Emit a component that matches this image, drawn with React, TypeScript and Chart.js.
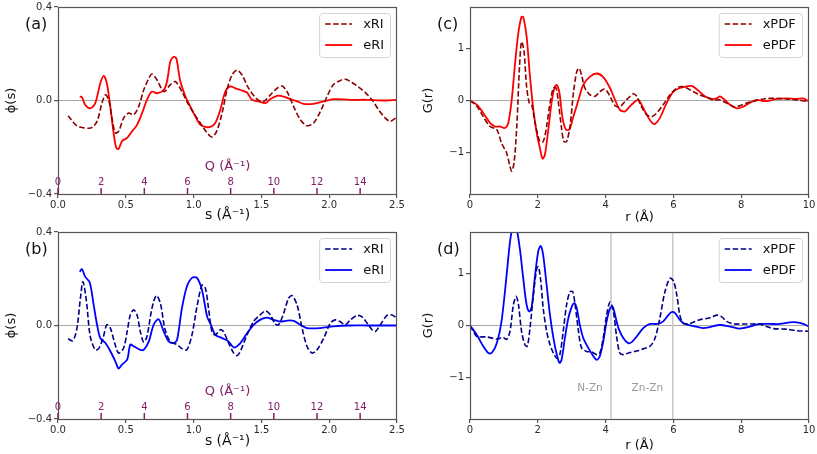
import React, { useEffect, useRef } from "react";
import { Chart, registerables } from "chart.js";

Chart.register(...registerables);
Chart.defaults.font.family = "'DejaVu Sans', sans-serif";

// ---------------- data ----------------
const S_TICKS = [0, 0.5, 1.0, 1.5, 2.0, 2.5];
const PHI_TICKS = [-0.4, 0, 0.4];
const R_TICKS = [0, 2, 4, 6, 8, 10];
const G_TICKS = [-1, 0, 1];
const Q_TICKS = [0, 2, 4, 6, 8, 10, 12, 14];
const BOND_R = [4.16, 5.98];
const BOND_LABELS = ["N-Zn", "Zn-Zn"];
const BOND_LABEL_R = [3.54, 5.23];

const A_XRI: number[][] = [[0.074,-0.065],[0.14,-0.108],[0.24,-0.118],[0.288,-0.089],[0.324,-0.011],[0.35,0.024],[0.374,0.003],[0.40,-0.082],[0.423,-0.139],[0.447,-0.132],[0.484,-0.075],[0.52,-0.054],[0.558,-0.061],[0.595,-0.026],[0.632,0.045],[0.67,0.095],[0.693,0.113],[0.73,0.088],[0.78,0.038],[0.828,0.067],[0.865,0.081],[0.914,0.038],[0.95,-0.004],[1.0,-0.054],[1.05,-0.096],[1.1,-0.139],[1.135,-0.156],[1.17,-0.132],[1.21,-0.054],[1.246,0.045],[1.283,0.109],[1.32,0.13],[1.357,0.109],[1.406,0.052],[1.467,0.006],[1.517,-0.004],[1.566,0.024],[1.615,0.052],[1.652,0.062],[1.689,0.038],[1.738,-0.026],[1.787,-0.082],[1.836,-0.108],[1.885,-0.096],[1.935,-0.047],[1.984,0.017],[2.03,0.067],[2.08,0.085],[2.12,0.091],[2.168,0.077],[2.217,0.057],[2.266,0.034],[2.316,0.003],[2.365,-0.04],[2.414,-0.075],[2.45,-0.089],[2.5,-0.071]];
const A_ERI: number[][] = [[0.16,0.017],[0.177,0.014],[0.2,-0.018],[0.238,-0.033],[0.275,-0.011],[0.312,0.074],[0.337,0.105],[0.36,0.074],[0.386,-0.026],[0.41,-0.139],[0.43,-0.203],[0.447,-0.207],[0.472,-0.174],[0.51,-0.16],[0.546,-0.132],[0.583,-0.104],[0.62,-0.054],[0.656,0.003],[0.693,0.038],[0.73,0.031],[0.78,0.045],[0.804,0.081],[0.828,0.166],[0.853,0.187],[0.873,0.18],[0.9,0.088],[0.94,0.017],[0.976,-0.026],[1.013,-0.068],[1.05,-0.104],[1.087,-0.113],[1.123,-0.113],[1.16,-0.096],[1.197,-0.04],[1.234,0.038],[1.27,0.06],[1.308,0.052],[1.345,0.045],[1.394,0.034],[1.43,0.003],[1.48,-0.004],[1.53,-0.011],[1.566,0.006],[1.615,0.02],[1.664,0.017],[1.713,0.006],[1.763,-0.004],[1.81,-0.014],[1.885,-0.014],[1.96,-0.004],[2.03,0.006],[2.156,0.003],[2.28,0.003],[2.4,0],[2.5,0.003]];
const B_XRI: number[][] = [[0.074,-0.057],[0.11,-0.065],[0.14,-0.011],[0.165,0.116],[0.184,0.187],[0.21,0.102],[0.238,-0.047],[0.275,-0.104],[0.3,-0.099],[0.332,-0.054],[0.36,0.003],[0.386,-0.011],[0.418,-0.075],[0.447,-0.118],[0.484,-0.096],[0.51,-0.026],[0.533,0.045],[0.558,0.067],[0.583,0.045],[0.607,-0.026],[0.632,-0.071],[0.656,-0.047],[0.693,0.074],[0.725,0.128],[0.755,0.095],[0.79,-0.018],[0.828,-0.068],[0.878,-0.082],[0.914,-0.099],[0.95,-0.104],[0.988,-0.04],[1.025,0.081],[1.062,0.173],[1.087,0.159],[1.11,0.074],[1.135,-0.026],[1.16,-0.04],[1.197,-0.018],[1.22,-0.026],[1.258,-0.075],[1.296,-0.118],[1.32,-0.129],[1.345,-0.11],[1.394,-0.04],[1.443,0.017],[1.49,0.045],[1.53,0.062],[1.566,0.045],[1.603,0.006],[1.627,0.003],[1.664,0.052],[1.7,0.116],[1.726,0.128],[1.763,0.088],[1.8,-0.011],[1.836,-0.089],[1.873,-0.118],[1.91,-0.104],[1.96,-0.054],[2.008,0.01],[2.045,0.024],[2.08,0.017],[2.12,0.003],[2.156,0.024],[2.205,0.043],[2.24,0.038],[2.28,0.01],[2.316,-0.018],[2.34,-0.026],[2.377,0.003],[2.426,0.043],[2.463,0.045],[2.5,0.031]];
const B_ERI: number[][] = [[0.16,0.23],[0.177,0.241],[0.2,0.209],[0.234,0.184],[0.263,0.088],[0.288,0.003],[0.312,-0.054],[0.35,-0.075],[0.386,-0.11],[0.423,-0.153],[0.447,-0.184],[0.472,-0.167],[0.51,-0.146],[0.533,-0.082],[0.558,-0.089],[0.607,-0.104],[0.632,-0.104],[0.67,-0.068],[0.705,0.003],[0.742,0.027],[0.78,-0.026],[0.816,-0.068],[0.853,-0.075],[0.878,-0.061],[0.914,0.074],[0.95,0.166],[0.988,0.204],[1.025,0.204],[1.062,0.152],[1.1,0.038],[1.128,0.003],[1.16,-0.04],[1.21,-0.054],[1.258,-0.068],[1.296,-0.094],[1.345,-0.075],[1.394,-0.033],[1.443,0.003],[1.49,0.024],[1.54,0.034],[1.59,0.024],[1.64,0.017],[1.69,0.021],[1.738,0.02],[1.787,0.003],[1.836,-0.011],[1.935,-0.011],[2.03,-0.004],[2.156,0],[2.28,0],[2.5,0]];
const C_XPDF: number[][] = [[0,0],[0.2,-0.11],[0.39,-0.31],[0.59,-0.5],[0.79,-0.56],[0.93,-0.82],[1.08,-1.01],[1.18,-1.27],[1.23,-1.36],[1.3,-1.2],[1.38,-0.5],[1.46,0.65],[1.52,1.13],[1.59,0.97],[1.67,0.27],[1.75,-0.05],[1.82,-0.08],[1.92,-0.43],[2.06,-0.79],[2.16,-0.79],[2.26,-0.5],[2.36,-0.05],[2.46,0.24],[2.54,0.24],[2.61,-0.05],[2.7,-0.53],[2.77,-0.79],[2.85,-0.79],[2.95,-0.5],[3.05,0.14],[3.15,0.56],[3.22,0.62],[3.29,0.49],[3.39,0.24],[3.54,0.11],[3.69,0.08],[3.83,0.17],[3.98,0.22],[4.13,0.08],[4.28,-0.1],[4.42,-0.12],[4.57,-0.02],[4.72,0.08],[4.82,0.13],[4.92,0.08],[5.06,-0.12],[5.21,-0.27],[5.36,-0.31],[5.51,-0.24],[5.7,-0.08],[5.9,0.11],[6.1,0.24],[6.24,0.27],[6.39,0.24],[6.59,0.17],[6.78,0.11],[6.98,0.06],[7.18,0.01],[7.37,0.01],[7.57,-0.05],[7.77,-0.12],[7.96,-0.1],[8.16,-0.05],[8.46,0],[8.75,0.04],[9.05,0.04],[9.34,0.03],[9.64,0.01],[10,-0.02]];
const C_EPDF: number[][] = [[0,0],[0.2,-0.08],[0.39,-0.24],[0.59,-0.43],[0.74,-0.5],[0.88,-0.5],[1.03,-0.53],[1.13,-0.43],[1.23,0.01],[1.33,0.72],[1.43,1.32],[1.52,1.61],[1.57,1.61],[1.67,1.23],[1.77,0.46],[1.87,-0.18],[1.97,-0.63],[2.06,-0.91],[2.14,-1.12],[2.21,-1.04],[2.31,-0.56],[2.41,-0.02],[2.49,0.24],[2.56,0.3],[2.64,0.14],[2.73,-0.34],[2.83,-0.56],[2.93,-0.56],[3.05,-0.31],[3.2,0.01],[3.34,0.3],[3.54,0.46],[3.74,0.52],[3.93,0.45],[4.13,0.24],[4.28,0.01],[4.42,-0.18],[4.57,-0.21],[4.72,-0.11],[4.87,-0.02],[4.97,0.01],[5.06,-0.08],[5.21,-0.27],[5.36,-0.42],[5.46,-0.45],[5.6,-0.34],[5.8,-0.05],[6.0,0.17],[6.19,0.24],[6.39,0.27],[6.54,0.28],[6.74,0.19],[6.93,0.08],[7.13,0.03],[7.28,0.04],[7.37,0.08],[7.52,0.01],[7.67,-0.08],[7.87,-0.15],[8.06,-0.12],[8.26,-0.04],[8.46,0.01],[8.65,-0.01],[8.85,0],[9.05,0.03],[9.34,0.04],[9.64,0.03],[9.83,0.04],[10,-0.02]];
const D_XPDF: number[][] = [[0,0],[0.1,-0.11],[0.2,-0.21],[0.49,-0.22],[0.79,-0.26],[0.98,-0.23],[1.08,-0.27],[1.18,-0.11],[1.28,0.4],[1.36,0.56],[1.43,0.4],[1.52,-0.11],[1.62,-0.37],[1.69,-0.4],[1.77,-0.05],[1.87,0.59],[1.97,1.1],[2.02,1.13],[2.09,0.84],[2.16,0.33],[2.26,-0.11],[2.36,-0.37],[2.46,-0.53],[2.56,-0.63],[2.65,-0.56],[2.75,-0.11],[2.85,0.4],[2.95,0.65],[3.03,0.65],[3.1,0.4],[3.2,-0.11],[3.29,-0.43],[3.44,-0.5],[3.59,-0.51],[3.74,-0.56],[3.83,-0.53],[3.93,-0.24],[4.03,0.2],[4.13,0.45],[4.23,0.27],[4.33,-0.24],[4.42,-0.53],[4.52,-0.56],[4.72,-0.52],[4.92,-0.49],[5.11,-0.45],[5.31,-0.4],[5.46,-0.24],[5.6,0.14],[5.75,0.65],[5.9,0.91],[6.0,0.86],[6.1,0.59],[6.19,0.2],[6.29,0.04],[6.49,0.04],[6.78,0.11],[7.08,0.15],[7.28,0.2],[7.42,0.17],[7.57,0.08],[7.77,0.03],[8.06,0.03],[8.36,0.03],[8.55,0.03],[8.75,-0.02],[8.95,-0.06],[9.34,-0.07],[9.64,-0.1],[10,-0.11]];
const D_EPDF: number[][] = [[0,0],[0.2,-0.18],[0.39,-0.4],[0.54,-0.53],[0.64,-0.53],[0.79,-0.34],[0.93,0.08],[1.08,0.97],[1.18,1.61],[1.27,1.92],[1.36,1.9],[1.47,1.48],[1.57,0.91],[1.67,0.4],[1.75,0.27],[1.82,0.36],[1.92,0.97],[2.02,1.45],[2.09,1.53],[2.16,1.35],[2.26,0.78],[2.36,0.2],[2.46,-0.24],[2.56,-0.56],[2.64,-0.72],[2.7,-0.66],[2.8,-0.24],[2.9,0.14],[3.0,0.36],[3.08,0.43],[3.15,0.33],[3.24,0.01],[3.34,-0.24],[3.49,-0.43],[3.64,-0.59],[3.74,-0.66],[3.83,-0.59],[3.93,-0.31],[4.03,0.08],[4.13,0.33],[4.21,0.36],[4.28,0.2],[4.38,-0.05],[4.52,-0.24],[4.67,-0.34],[4.77,-0.32],[4.92,-0.21],[5.11,-0.05],[5.31,0.03],[5.51,0.03],[5.7,0.08],[5.85,0.2],[5.95,0.26],[6.05,0.24],[6.19,0.11],[6.34,0.03],[6.59,-0.01],[6.88,-0.05],[7.08,-0.03],[7.37,0.01],[7.67,-0.02],[7.96,-0.06],[8.26,-0.02],[8.55,0.03],[8.85,0.03],[9.14,0.03],[9.44,0.06],[9.64,0.06],[9.83,0.03],[10,-0.02]];

// ---------------- styles ----------------
const INK = "#2a2a2a";
const FRAME = "#555555";
const PURPLE = "#82206c";
const DARKRED = "#8b0000";
const RED = "#ff0000";
const DARKBLUE = "#00008b";
const BLUE = "#0000ff";

type Series = { label: string; points: number[][]; color: string; dashed: boolean };
type PanelSpec = {
  tag: string;
  x: number; y: number; w: number; h: number;
  area: { l: number; t: number; r: number; b: number };
  xMin: number; xMax: number; yMin: number; yMax: number;
  xTicks: number[]; yTicks: number[];
  xFmt: (v: number) => string; yFmt: (v: number) => string;
  xTitle: string; yTitle: string;
  yTitlePad: number; xTitlePad: number; xTitleSize: number;
  series: Series[];
  qAxis: boolean;
  bonds: boolean;
};

const minus = (s: string) => s.replace("-", "\u2212");

function decorPlugin(p: PanelSpec) {
  return {
    id: "decor" + p.tag,
    beforeDatasetsDraw(chart: any) {
      const { ctx, chartArea: a, scales } = chart;
      const y0 = scales.y.getPixelForValue(0);
      ctx.save();
      ctx.strokeStyle = "#a8a8a8";
      ctx.lineWidth = 1.2;
      ctx.beginPath();
      ctx.moveTo(a.left, y0);
      ctx.lineTo(a.right, y0);
      ctx.stroke();
      if (p.bonds) {
        ctx.strokeStyle = "#c8c8c8";
        ctx.lineWidth = 1.5;
        BOND_R.forEach((r) => {
          const px = scales.x.getPixelForValue(r);
          ctx.beginPath();
          ctx.moveTo(px, a.top);
          ctx.lineTo(px, a.bottom);
          ctx.stroke();
        });
        ctx.fillStyle = "#9a9a9a";
        ctx.font = "10.5px 'DejaVu Sans'";
        ctx.textAlign = "center";
        ctx.textBaseline = "middle";
        BOND_LABELS.forEach((t, i) => {
          ctx.fillText(t, scales.x.getPixelForValue(BOND_LABEL_R[i]), scales.y.getPixelForValue(-1.2));
        });
      }
      ctx.restore();
    },
    afterDraw(chart: any) {
      const { ctx, chartArea: a, scales } = chart;
      ctx.save();
      // frame
      ctx.strokeStyle = FRAME;
      ctx.lineWidth = 1.2;
      ctx.strokeRect(a.left + 0.5, a.top + 0.5, a.right - a.left - 1, a.bottom - a.top);
      // Q axis
      if (p.qAxis) {
        ctx.strokeStyle = PURPLE;
        ctx.fillStyle = PURPLE;
        ctx.lineWidth = 1.5;
        ctx.font = "10px 'DejaVu Sans'";
        ctx.textAlign = "center";
        ctx.textBaseline = "middle";
        Q_TICKS.forEach((q) => {
          const px = scales.x.getPixelForValue(q / (2 * Math.PI));
          ctx.beginPath();
          ctx.moveTo(px, a.bottom);
          ctx.lineTo(px, a.bottom - 6);
          ctx.stroke();
          ctx.fillText(String(q), px, a.bottom - 11.5);
        });
        ctx.font = "13px 'DejaVu Sans'";
        ctx.fillText("Q (\u00c5\u207b\u00b9)", (a.left + a.right) / 2, a.bottom - 27);
      }
      // panel tag
      ctx.fillStyle = "#111";
      ctx.font = "16px 'DejaVu Sans'";
      ctx.textAlign = "left";
      ctx.textBaseline = "middle";
      ctx.fillText("(" + p.tag + ")", a.left - 33, a.top + 18);
      // legend
      ctx.font = "13px 'DejaVu Sans'";
      const tw = Math.max(...p.series.map((s) => ctx.measureText(s.label).width));
      const bw = 6 + 27 + 11 + tw + 6;
      const bx = a.right - 7 - bw;
      const by = a.top + 6;
      const bh = 44;
      ctx.beginPath();
      if (ctx.roundRect) ctx.roundRect(bx + 0.5, by + 0.5, bw, bh, 3);
      else ctx.rect(bx + 0.5, by + 0.5, bw, bh);
      ctx.fillStyle = "rgba(255,255,255,0.85)";
      ctx.fill();
      ctx.strokeStyle = "#d4d4d4";
      ctx.lineWidth = 1;
      ctx.stroke();
      p.series.forEach((s, i) => {
        const ly = by + 11 + i * 21;
        ctx.strokeStyle = s.color;
        ctx.lineWidth = s.dashed ? 1.6 : 1.8;
        ctx.setLineDash(s.dashed ? [5.5, 2.5] : []);
        ctx.beginPath();
        ctx.moveTo(bx + 6, ly);
        ctx.lineTo(bx + 33, ly);
        ctx.stroke();
        ctx.setLineDash([]);
        ctx.fillStyle = "#111";
        ctx.fillText(s.label, bx + 44, ly + 1);
      });
      ctx.restore();
    },
  };
}

function buildConfig(p: PanelSpec): any {
  const padTop = p.area.t - p.y;
  const padRight = p.x + p.w - p.area.r;
  const yW = p.area.l - p.x;
  const xH = p.y + p.h - p.area.b;
  const tickGrid = { display: true, drawOnChartArea: false, drawTicks: true, tickLength: 4, color: FRAME, lineWidth: 1.2 };
  return {
    type: "line",
    data: {
      datasets: p.series.map((s) => ({
        label: s.label,
        data: s.points.map(([x, y]) => ({ x, y })),
        borderColor: s.color,
        borderWidth: s.dashed ? 1.6 : 1.8,
        borderDash: s.dashed ? [5.5, 2.5] : [],
        pointRadius: 0,
        fill: false,
        tension: 0.3,
      })),
    },
    options: {
      responsive: false,
      animation: false,
      events: [],
      layout: { padding: { top: padTop, right: padRight, left: 0, bottom: 0 } },
      plugins: { legend: { display: false }, tooltip: { enabled: false } },
      scales: {
        x: {
          type: "linear",
          min: p.xMin,
          max: p.xMax,
          grid: tickGrid,
          border: { display: false },
          afterBuildTicks: (ax: any) => { ax.ticks = p.xTicks.map((v) => ({ value: v })); },
          afterFit: (ax: any) => { ax.height = xH; ax.paddingLeft = 0; ax.paddingRight = 0; ax.paddingTop = 0; ax.paddingBottom = 0; },
          ticks: { color: INK, font: { size: 10 }, padding: 1, maxRotation: 0, autoSkip: false, callback: (v: number) => p.xFmt(v) },
          title: { display: true, text: p.xTitle, color: "#111", font: { size: p.xTitleSize }, padding: { top: 0, bottom: p.xTitlePad } },
        },
        y: {
          type: "linear",
          min: p.yMin,
          max: p.yMax,
          grid: tickGrid,
          border: { display: false },
          afterBuildTicks: (ax: any) => { ax.ticks = p.yTicks.map((v) => ({ value: v })); },
          afterFit: (ax: any) => { ax.width = yW; ax.paddingLeft = 0; ax.paddingRight = 0; ax.paddingTop = 0; ax.paddingBottom = 0; },
          ticks: { color: INK, font: { size: 10 }, padding: 2, autoSkip: false, callback: (v: number) => p.yFmt(v) },
          title: { display: true, text: p.yTitle, color: "#111", font: { size: 13 }, padding: { top: p.yTitlePad, bottom: 0 } },
        },
      },
    },
    plugins: [decorPlugin(p)],
  };
}

const fmt1 = (v: number) => minus(v.toFixed(1));
const fmt0 = (v: number) => minus(String(Math.round(v)));

const PANELS: PanelSpec[] = [
  {
    tag: "a", x: 0, y: 0, w: 408, h: 225, area: { l: 58, t: 7, r: 397, b: 194 },
    xMin: 0, xMax: 2.5, yMin: -0.4, yMax: 0.4, xTicks: S_TICKS, yTicks: PHI_TICKS,
    xFmt: fmt1, yFmt: fmt1, xTitle: "s (\u00c5\u207b\u00b9)", yTitle: "\u03d5(s)", yTitlePad: 4, xTitlePad: 1, xTitleSize: 14,
    series: [
      { label: "xRI", points: A_XRI, color: DARKRED, dashed: true },
      { label: "eRI", points: A_ERI, color: RED, dashed: false },
    ],
    qAxis: true, bonds: false,
  },
  {
    tag: "b", x: 0, y: 225, w: 408, h: 229, area: { l: 58, t: 232, r: 397, b: 419 },
    xMin: 0, xMax: 2.5, yMin: -0.4, yMax: 0.4, xTicks: S_TICKS, yTicks: PHI_TICKS,
    xFmt: fmt1, yFmt: fmt1, xTitle: "s (\u00c5\u207b\u00b9)", yTitle: "\u03d5(s)", yTitlePad: 4, xTitlePad: 4, xTitleSize: 14,
    series: [
      { label: "xRI", points: B_XRI, color: DARKBLUE, dashed: true },
      { label: "eRI", points: B_ERI, color: BLUE, dashed: false },
    ],
    qAxis: true, bonds: false,
  },
  {
    tag: "c", x: 408, y: 0, w: 409, h: 225, area: { l: 470, t: 7, r: 809, b: 194 },
    xMin: 0, xMax: 10, yMin: -1.8, yMax: 1.8, xTicks: R_TICKS, yTicks: G_TICKS,
    xFmt: fmt0, yFmt: fmt0, xTitle: "r (\u00c5)", yTitle: "G(r)", yTitlePad: 13, xTitlePad: 0, xTitleSize: 13,
    series: [
      { label: "xPDF", points: C_XPDF, color: DARKRED, dashed: true },
      { label: "ePDF", points: C_EPDF, color: RED, dashed: false },
    ],
    qAxis: false, bonds: false,
  },
  {
    tag: "d", x: 408, y: 225, w: 409, h: 229, area: { l: 470, t: 232, r: 809, b: 419 },
    xMin: 0, xMax: 10, yMin: -1.8, yMax: 1.8, xTicks: R_TICKS, yTicks: G_TICKS,
    xFmt: fmt0, yFmt: fmt0, xTitle: "r (\u00c5)", yTitle: "G(r)", yTitlePad: 13, xTitlePad: 1, xTitleSize: 13,
    series: [
      { label: "xPDF", points: D_XPDF, color: DARKBLUE, dashed: true },
      { label: "ePDF", points: D_EPDF, color: BLUE, dashed: false },
    ],
    qAxis: false, bonds: true,
  },
];

function Panel({ spec }: { spec: PanelSpec }) {
  const ref = useRef<HTMLCanvasElement>(null);
  useEffect(() => {
    const chart = new Chart(ref.current as HTMLCanvasElement, buildConfig(spec));
    return () => chart.destroy();
  }, [spec]);
  return (
    <canvas
      ref={ref}
      width={spec.w}
      height={spec.h}
      style={{ position: "absolute", left: spec.x, top: spec.y, width: spec.w, height: spec.h }}
    />
  );
}

export default function App() {
  return (
    <div style={{ position: "absolute", left: 0, top: 0, width: 817, height: 454, background: "#fff" }}>
      {PANELS.map((p) => (
        <Panel key={p.tag} spec={p} />
      ))}
    </div>
  );
}
